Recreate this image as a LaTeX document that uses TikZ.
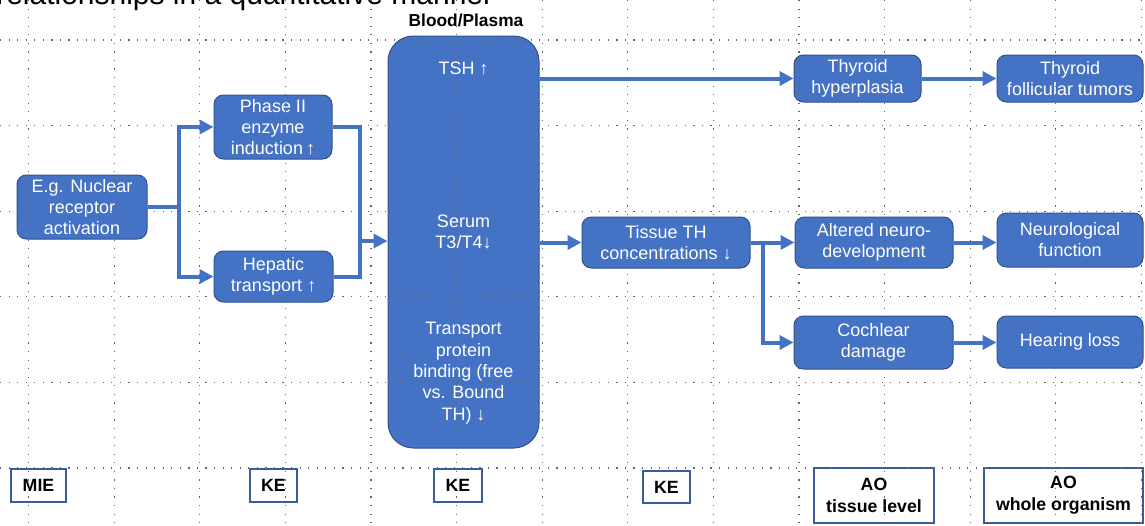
\documentclass[tikz,border=0pt]{standalone}
\usepackage{fontspec}
\setmainfont{Liberation Sans}
\usetikzlibrary{arrows.meta}
\definecolor{ofblue}{HTML}{4472C4}
\definecolor{ofdark}{HTML}{2F528F}
\begin{document}
\begin{tikzpicture}[x=0.75pt,y=-0.75pt,
  box/.style={draw=ofdark, line width=0.75pt, fill=ofblue, rounded corners=7pt,
    text=white, align=center, font=\fontsize{13.5}{15.75}\selectfont, inner sep=0pt},
  txt/.style={text=white, align=center, font=\fontsize{13.5}{16}\selectfont, inner sep=0pt},
  lab/.style={draw=ofdark!70!ofblue, line width=1.1pt, fill=white, align=center,
    font=\fontsize{13.3}{16.5}\selectfont\bfseries, inner sep=0pt},
  conn/.style={draw=ofblue, line width=3pt},
  arr/.style={conn, -{Triangle[length=10.5pt,width=10.5pt]}},
  gridln/.style={draw=black!60, line width=0.9pt, dash pattern=on 0.9pt off 5.52pt}
]
\useasboundingbox (0,0) rectangle (1145,525);
\clip (0,0) rectangle (1145,525);
\fill[white] (0,0) rectangle (1145,525);

% cut-off title (as in the reference, only its lower part is visible)
\node[anchor=base west, inner sep=0pt, font=\fontsize{22.5}{27}\selectfont] (title) at (-4,4) {relationships in a quantitative manner};
\node[inner sep=0pt, font=\fontsize{13}{15}\selectfont\bfseries] (bp) at (466,20) {Blood/Plasma};

% boxes
\node[box, minimum width=130*0.75pt, minimum height=64*0.75pt] (mie) at (82,207) {E.g. Nuclear\\receptor\\activation};
\node[box, minimum width=118*0.75pt, minimum height=64*0.75pt] (phase) at (273,127) {Phase II\\enzyme\\induction\,↑};
\node[box, minimum width=119*0.75pt, minimum height=51*0.75pt] (hep) at (273.5,276.5) {Hepatic\\transport ↑};
\node[box, rounded corners=19pt, minimum width=151*0.75pt, minimum height=412*0.75pt] (blood) at (463.5,242) {};
\node[txt] (tsh) at (463.5,68) {TSH ↑};
\node[txt] (serum) at (463.5,232) {Serum\\T3/T4↓};
\node[txt] (transp) at (463.5,373) {Transport\\protein\\binding (free\\vs. Bound\\TH) ↓};
\node[box, minimum width=168*0.75pt, minimum height=51*0.75pt] (tissue) at (666,242.5) {Tissue TH\\concentrations ↓};
\node[box, minimum width=127*0.75pt, minimum height=47*0.75pt] (hyper) at (857.5,78.5) {Thyroid\\hyperplasia};
\node[box, minimum width=146*0.75pt, minimum height=47*0.75pt] (tumor) at (1070,78.5) {Thyroid\\follicular tumors};
\node[box, minimum width=158*0.75pt, minimum height=51*0.75pt] (neuro) at (874,242.5) {Altered neuro-\\development};
\node[box, minimum width=146*0.75pt, minimum height=54*0.75pt] (nfunc) at (1070,240) {Neurological\\function};
\node[box, minimum width=159*0.75pt, minimum height=53*0.75pt] (coch) at (873.5,342.5) {Cochlear\\damage};
\node[box, minimum width=146*0.75pt, minimum height=52*0.75pt] (hear) at (1070,342) {Hearing loss};

% connectors
\coordinate (s1) at (179,207);
\draw[conn] (mie.east) -- (s1);
\draw[arr] (s1) |- (phase.west);
\draw[arr] (s1) |- (hep.west);
\coordinate (j1) at (360,241);
\draw[conn] (phase.east) -| (j1);
\draw[conn] (hep.east) -| (j1);
\draw[arr] (j1) -- (j1 -| blood.west);
\draw[arr] (blood.east |- hyper.west) -- (hyper.west);
\draw[arr] (blood.east |- tissue.west) -- (tissue.west);
\coordinate (s2) at (763,242.5);
\draw[arr] (tissue.east) -- (neuro.west);
\draw[arr] (s2) |- (coch.west);
\draw[arr] (hyper.east) -- (tumor.west |- hyper.east);
\draw[arr] (neuro.east) -- (nfunc.west |- neuro.east);
\draw[arr] (coch.east) -- (hear.west |- coch.east);

% level labels
\node[lab, minimum width=55*0.75pt, minimum height=33*0.75pt] (lmie) at (38.5,485.5) {MIE};
\node[lab, minimum width=47*0.75pt, minimum height=33*0.75pt] (lke1) at (273.5,485.5) {KE};
\node[lab, minimum width=48*0.75pt, minimum height=33*0.75pt] (lke2) at (458,485.5) {KE};
\node[lab, minimum width=47*0.75pt, minimum height=32*0.75pt] (lke3) at (666.5,487) {KE};
\node[lab, minimum width=120*0.75pt, minimum height=55*0.75pt] (lao1) at (874,495.5) {AO\\tissue level};
\node[lab, minimum width=159*0.75pt, minimum height=55*0.75pt] (lao2) at (1063.5,495.5) {AO\\whole organism};

% dotted guide grid
\foreach \k in {0,...,13} {
  \draw[gridln] (28.6+85.6*\k,0) -- (28.6+85.6*\k,525);
}
\foreach \k in {0,...,5} {
  \draw[gridln] (0,40+85.6*\k) -- (1145,40+85.6*\k);
}
\end{tikzpicture}
\end{document}
